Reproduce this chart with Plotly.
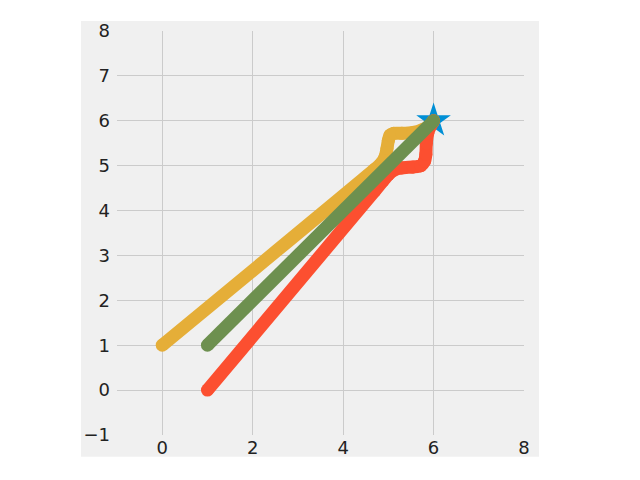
import plotly.graph_objects as go

# common target of the three paths
target_x = [6]
target_y = [6]

orange_x = [0, 4.7, 4.85, 4.93, 4.97, 5.0, 5.04, 5.12, 5.3, 5.55, 5.75, 5.9, 6]
orange_y = [1, 4.92, 5.06, 5.2, 5.38, 5.56, 5.68, 5.72, 5.72, 5.74, 5.8, 5.88, 6]

red_x = [1, 4.7, 4.88, 5.0, 5.12, 5.3, 5.55, 5.72, 5.8, 5.83, 5.84, 5.87, 5.93, 6]
red_y = [0, 4.44, 4.66, 4.8, 4.9, 4.95, 4.97, 5.0, 5.1, 5.25, 5.5, 5.72, 5.88, 6]

green_x = [1, 6]
green_y = [1, 6]

x_ticks = [0, 2, 4, 6, 8]
y_ticks = [-1, 0, 1, 2, 3, 4, 5, 6, 7, 8]

fig = go.Figure()

fig.add_trace(go.Scatter(
    x=target_x, y=target_y, mode='markers',
    marker=dict(symbol='star', size=26, color='#008fd5'),
))

for xs, ys, col in [(orange_x, orange_y, '#e5ae38'),
                    (red_x, red_y, '#fc4f30'),
                    (green_x, green_y, '#6d904f')]:
    fig.add_trace(go.Scatter(
        x=xs, y=ys, mode='lines+markers',
        line=dict(color=col, width=13, shape='spline', smoothing=0.6),
        marker=dict(color=col, size=13),
    ))

# page body has an 8px margin, so the figure starts at (8, 8)
fig.update_layout(
    width=640, height=480,
    margin=dict(l=109, r=124, t=20, b=53),
    paper_bgcolor='white',
    plot_bgcolor='#f0f0f0',
    showlegend=False,
    font=dict(family='DejaVu Sans', size=18, color='#222222'),
    shapes=[dict(type='rect', xref='paper', yref='paper',
                 x0=-0.0885, x1=1.037, y0=-0.054, y1=1.0246,
                 fillcolor='#f0f0f0', line=dict(width=0), layer='below')],
)
fig.update_xaxes(range=[-1, 8], tickvals=x_ticks, showgrid=True,
                 gridcolor='#cbcbcb', gridwidth=1.3, zeroline=False,
                 ticks='', ticklabelstandoff=0)
fig.update_yaxes(range=[-1, 8], tickvals=y_ticks, showgrid=True,
                 gridcolor='#cbcbcb', gridwidth=1.3, zeroline=False,
                 ticks='', ticklabelstandoff=6)

fig.write_html("out.html")
